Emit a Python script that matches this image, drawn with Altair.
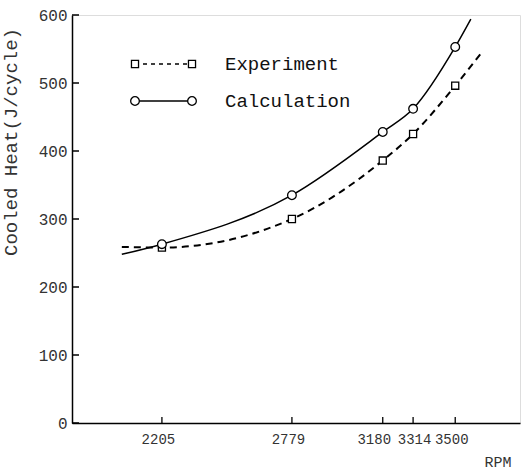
import altair as alt
import pandas as pd

# --- data ---
rpm_ticks = [2205, 2779, 3180, 3314, 3500]
y_ticks = [0, 100, 200, 300, 400, 500, 600]

exp_rpm = [2205, 2779, 3180, 3314, 3500]
exp_heat = [258, 300, 386, 425, 496]
calc_rpm = [2205, 2779, 3180, 3314, 3500]
calc_heat = [263, 335, 428, 462, 553]

# smooth fitted curves (incl. extensions)
exp_curve_rpm = [2028, 2205, 2779, 3180, 3314, 3500, 3622]
exp_curve_heat = [259, 258, 300, 386, 425, 496, 547]
calc_curve_rpm = [2028, 2205, 2779, 3180, 3314, 3500, 3569]
calc_curve_heat = [248, 263, 335, 428, 462, 553, 594]

series_names = ["Experiment", "Calculation"]

FONT = "Liberation Mono"
W, H = 448, 408

xs = alt.Scale(domain=[1808, 3786], nice=False, zero=False)
ys = alt.Scale(domain=[0, 600], nice=False)

exp_pts = pd.DataFrame({"rpm": exp_rpm, "heat": exp_heat})
calc_pts = pd.DataFrame({"rpm": calc_rpm, "heat": calc_heat})
exp_curve = pd.DataFrame({"rpm": exp_curve_rpm, "heat": exp_curve_heat})
calc_curve = pd.DataFrame({"rpm": calc_curve_rpm, "heat": calc_curve_heat})

x_axis = alt.Axis(values=rpm_ticks, ticks=False, grid=False, title=None, format="d",
                  labelOverlap=False, labelFont=FONT, labelFontSize=14, labelColor="#333",
                  labelOffset={"condition": [
                      {"test": "datum.value === 3180", "value": -9},
                      {"test": "datum.value === 3314", "value": 1}],
                      "value": -4},
                  labelPadding=9, domainColor="black", domainWidth=1.5)
y_axis = alt.Axis(values=y_ticks, ticks=False, grid=False, title=None, format="d",
                  labelOverlap=False, labelFont=FONT, labelFontSize=16, labelColor="#333",
                  labelPadding=5, domainColor="black", domainWidth=1.5)

base_axes = alt.Chart(exp_pts).mark_point(opacity=0).encode(
    x=alt.X("rpm:Q", scale=xs, axis=x_axis),
    y=alt.Y("heat:Q", scale=ys, axis=y_axis),
)

calc_line = alt.Chart(calc_curve).mark_line(
    color="black", strokeWidth=1.5, interpolate="monotone"
).encode(x=alt.X("rpm:Q", scale=xs), y=alt.Y("heat:Q", scale=ys))

exp_line = alt.Chart(exp_curve).mark_line(
    color="black", strokeWidth=2, strokeDash=[7, 5], interpolate="monotone"
).encode(x=alt.X("rpm:Q", scale=xs), y=alt.Y("heat:Q", scale=ys))

calc_marks = alt.Chart(calc_pts).mark_point(
    shape="circle", size=75, filled=True, fill="white", stroke="black", strokeWidth=1.3,
    opacity=1, fillOpacity=1
).encode(x=alt.X("rpm:Q", scale=xs), y=alt.Y("heat:Q", scale=ys))

exp_marks = alt.Chart(exp_pts).mark_point(
    shape="square", size=50, filled=True, fill="white", stroke="black", strokeWidth=1.3,
    opacity=1, fillOpacity=1
).encode(x=alt.X("rpm:Q", scale=xs), y=alt.Y("heat:Q", scale=ys))

# inward tick marks
xt = alt.Chart(pd.DataFrame({"rpm": rpm_ticks})).mark_rule(color="black", strokeWidth=1.3).encode(
    x=alt.X("rpm:Q", scale=xs), y=alt.value(H), y2=alt.value(H - 6))
yt = alt.Chart(pd.DataFrame({"heat": y_ticks})).mark_rule(color="black", strokeWidth=1.5).encode(
    y=alt.Y("heat:Q", scale=ys), x=alt.value(0), x2=alt.value(7))

one = pd.DataFrame({"a": [0]})

def legend_row(name, yv, shape, size, dash, sw):
    line_kwargs = dict(color="black", strokeWidth=sw)
    if dash:
        line_kwargs["strokeDash"] = dash
    ln = alt.Chart(one).mark_rule(**line_kwargs).encode(
        x=alt.value(63), x2=alt.value(120), y=alt.value(yv))
    pk = dict(shape=shape, size=size, filled=True, fill="white", stroke="black",
              strokeWidth=1.3, opacity=1, fillOpacity=1)
    p1 = alt.Chart(one).mark_point(**pk).encode(x=alt.value(63), y=alt.value(yv))
    p2 = alt.Chart(one).mark_point(**pk).encode(x=alt.value(120), y=alt.value(yv))
    tx = alt.Chart(one).mark_text(font=FONT, fontSize=19, align="left", baseline="middle",
                                  color="#111").encode(
        x=alt.value(153), y=alt.value(yv), text=alt.value(name))
    return ln + p1 + p2 + tx

leg_exp = legend_row(series_names[0], 49, "square", 50, [4, 4], 1.5)
leg_calc = legend_row(series_names[1], 86, "circle", 75, None, 1.3)

ytitle = alt.Chart(one).mark_text(font=FONT, fontSize=19, angle=270, align="center",
                                  baseline="middle", color="#333").encode(
    x=alt.value(-61), y=alt.value(127), text=alt.value("Cooled Heat(J/cycle)"))
xtitle = alt.Chart(one).mark_text(font=FONT, fontSize=15, align="center",
                                  baseline="middle", color="#333").encode(
    x=alt.value(426), y=alt.value(447), text=alt.value("RPM"))

chart = alt.layer(
    base_axes, xt, yt, exp_line, calc_line, exp_marks, calc_marks,
    leg_exp, leg_calc, ytitle, xtitle
).properties(
    width=W, height=H,
    padding={"left": 72, "top": 15, "right": 10, "bottom": 48},
    autosize="none",
).configure_view(stroke=None).configure(background="white")

chart.save("out.html", embed_options={"renderer": "svg", "actions": False})
